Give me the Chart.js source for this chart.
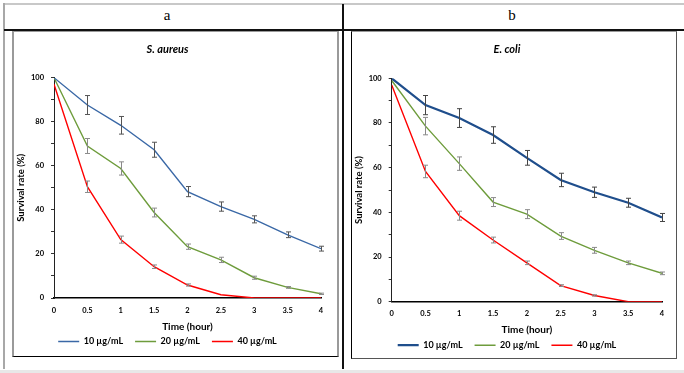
<!DOCTYPE html>
<html>
<head>
<meta charset="utf-8">
<script src="https://cdn.jsdelivr.net/npm/chart.js@4.4.1/dist/chart.umd.min.js"></script>
<style>
  body { margin: 0; width: 684px; height: 373px; background: #fff; position: relative; overflow: hidden; }
  .abs { position: absolute; }
  .hdr { position: absolute; top: 7px; font: 15px "Liberation Serif", serif; color: #000; width: 40px; text-align: center; }
  canvas { position: absolute; }
</style>
</head>
<body>
<!-- table frame -->
<div class="abs" style="left:3px;top:3px;width:681px;height:2px;background:#c8c8c8"></div>
<div class="abs" style="left:3px;top:3px;width:2px;height:366px;background:#a8a8a8"></div>
<div class="abs" style="left:4px;top:29px;width:680px;height:2px;background:#111"></div>
<div class="abs" style="left:342px;top:4px;width:2px;height:365px;background:#111"></div>
<div class="abs" style="left:0;top:370px;width:684px;height:3px;background:#e8e8e8"></div>
<div class="hdr" style="left:147px">a</div>
<div class="hdr" style="left:492px">b</div>
<!-- chart boxes -->
<div class="abs" style="left:12px;top:31px;width:327px;height:326px;box-sizing:border-box;border:2px solid #9a9a9a;border-top-width:1px;border-bottom:1px solid #000"></div>
<div class="abs" style="left:351px;top:31px;width:326px;height:328px;box-sizing:border-box;border:1px solid #555;border-left-color:#000;border-top-color:#999"></div>
<canvas id="chartA" width="324" height="324" style="left:14px;top:32px"></canvas>
<canvas id="chartB" width="324" height="326" style="left:352px;top:32px"></canvas>

<script>
// tijdstippen (uur)
const times = [0, 0.5, 1, 1.5, 2, 2.5, 3, 3.5, 4];
const doseLabels = ['10 µg/mL', '20 µg/mL', '40 µg/mL'];

// S. aureus
const saureus10 = [100, 87.6, 78.4, 67.3, 48.3, 41.5, 35.7, 28.7, 22.4];
const saureus10Err = [0, 4.3, 4.0, 3.4, 2.3, 2.1, 1.6, 1.3, 1.1];
const saureus20 = [100, 69.0, 58.8, 38.8, 23.3, 17.3, 9.2, 4.8, 1.9];
const saureus20Err = [0, 3.4, 3.0, 2.0, 1.2, 1.2, 0.7, 0.4, 0.3];
const saureus40 = [97, 50.5, 26.5, 14.2, 5.9, 1.5, 0, 0, 0];
const saureus40Err = [0, 2.6, 1.6, 0.8, 0.5, 0, 0, 0, 0];

// E. coli
const ecoli10 = [100, 88.0, 82.2, 74.6, 64.4, 54.5, 49.0, 44.3, 37.7];
const ecoli10Err = [0, 4.3, 4.2, 3.7, 3.3, 3.0, 2.3, 2.0, 1.8];
const ecoli20 = [99, 78.6, 61.8, 44.6, 39.2, 29.4, 23.0, 17.4, 12.7];
const ecoli20Err = [0, 3.9, 3.0, 2.0, 2.0, 1.5, 1.3, 0.8, 0.6];
const ecoli40 = [97, 58.3, 38.5, 27.6, 17.4, 7.2, 2.8, 0, 0];
const ecoli40Err = [0, 2.8, 2.0, 1.3, 0.8, 0.4, 0.3, 0, 0];

const FONT = 'Lato, "Noto Sans", sans-serif';

// foutbalkjes tekenen
const errorBars = {
  id: 'errorBars',
  afterDatasetsDraw(chart) {
    const ctx = chart.ctx, xs = chart.scales.x, ys = chart.scales.y;
    chart.data.datasets.forEach(ds => {
      ctx.save();
      ctx.strokeStyle = ds.errorColor;
      ctx.lineWidth = 1;
      ds.data.forEach((p, i) => {
        const e = ds.errors[i];
        if (!e) return;
        const x = Math.round(xs.getPixelForValue(p.x)) + 0.5;
        const y1 = ys.getPixelForValue(p.y + e);
        const y2 = ys.getPixelForValue(p.y - e);
        ctx.beginPath();
        ctx.moveTo(x, y1); ctx.lineTo(x, y2);
        ctx.moveTo(x - 2.5, y1); ctx.lineTo(x + 2.5, y1);
        ctx.moveTo(x - 2.5, y2); ctx.lineTo(x + 2.5, y2);
        ctx.stroke();
      });
      ctx.restore();
    });
  }
};

function series(label, values, errs, color, width, errColor) {
  return {
    label: label,
    data: values.map((v, i) => ({ x: times[i], y: v })),
    errors: errs,
    errorColor: errColor,
    borderColor: color,
    backgroundColor: color,
    borderWidth: width,
    pointRadius: 0,
    tension: 0,
    fill: false
  };
}

function makeChart(id, title, datasets, opt) {
  new Chart(document.getElementById(id), {
    type: 'line',
    data: { datasets: datasets },
    plugins: [errorBars],
    options: {
      responsive: false,
      animation: false,
      layout: { padding: { left: 0, right: opt.padRight, top: 0, bottom: opt.padBottom } },
      plugins: {
        title: {
          display: true,
          text: title,
          color: '#000',
          font: { family: FONT, size: 11, weight: 'bold', style: 'italic' },
          padding: { top: 10.4, bottom: opt.titleGap }
        },
        legend: {
          position: 'bottom',
          maxHeight: 26,
          labels: {
            color: '#000',
            font: { family: FONT, size: 9, weight: 'bold' },
            boxWidth: 21,
            boxHeight: 0,
            padding: 12
          }
        },
        tooltip: { enabled: false }
      },
      scales: {
        x: {
          type: 'linear',
          min: 0, max: 4,
          afterFit: s => { s.height = 27; },
          ticks: {
            stepSize: 0.5,
            color: '#000',
            padding: opt.xTickPad,
            maxRotation: 0,
            font: { family: FONT, size: 7.5, weight: 'bold' },
            callback: v => String(v)
          },
          grid: { display: false, drawTicks: false },
          border: { display: true, color: '#000', width: 1.5 },
          title: {
            display: true,
            text: 'Time (hour)',
            color: '#000',
            font: { family: FONT, size: 10, weight: 'bold' },
            padding: { top: 0, bottom: opt.xTitlePad }
          }
        },
        y: {
          min: 0, max: 100,
          afterFit: s => { s.width = opt.yWidth; },
          ticks: {
            stepSize: 10,
            color: '#000',
            padding: 7,
            font: { family: FONT, size: 7.5, weight: 'bold' },
            callback: v => (v % 20 === 0 ? v : '')
          },
          grid: { display: true, drawOnChartArea: false, drawTicks: true, tickLength: 3, color: '#333' },
          border: { display: true, color: '#222', width: 1 },
          title: {
            display: true,
            text: 'Survival rate (%)',
            color: '#000',
            font: { family: FONT, size: 9.5, weight: 'bold' },
            padding: { top: 1.3, bottom: 0 }
          }
        }
      }
    }
  });
}

makeChart('chartA', 'S. aureus', [
  series(doseLabels[0], saureus10, saureus10Err, '#3a68a6', 1.4, '#555'),
  series(doseLabels[1], saureus20, saureus20Err, '#6e9c3c', 1.4, '#8a8a8a'),
  series(doseLabels[2], saureus40, saureus40Err, '#ff0000', 1.4, '#8a8a8a')
], { padRight: 17, padBottom: 5, titleGap: 22.1, xTickPad: 8.5, xTitlePad: -7.7, yWidth: 40 });

makeChart('chartB', 'E. coli', [
  series(doseLabels[0], ecoli10, ecoli10Err, '#1f4e8c', 2.2, '#444'),
  series(doseLabels[1], ecoli20, ecoli20Err, '#6e9c3c', 1.4, '#8a8a8a'),
  series(doseLabels[2], ecoli40, ecoli40Err, '#ff0000', 1.4, '#8a8a8a')
], { padRight: 14, padBottom: 3.3, titleGap: 22.7, xTickPad: 7.5, xTitlePad: -7, yWidth: 39.7 });
</script>
</body>
</html>
